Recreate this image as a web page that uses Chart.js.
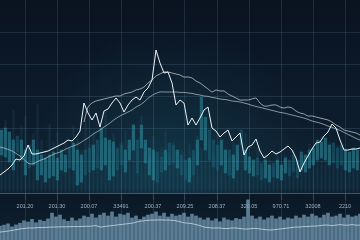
<!DOCTYPE html>
<html><head><meta charset="utf-8">
<script src="https://cdn.jsdelivr.net/npm/chart.js@4.4.1/dist/chart.umd.min.js"></script>
<style>html,body{margin:0;padding:0;background:#0c1726;overflow:hidden}canvas{display:block}</style>
</head><body>
<canvas id="c" width="360" height="240" style="width:360px;height:240px"></canvas>
<script>
const xTickLabels = ["201.20","201.30","200.07","33491","200.37","209.25","208.37","320.05","970.71","32008","2210"];

const price = [182.5,184,185.5,187.5,190.5,190,192,197.5,193,193,
  193.5,194,194.5,195.5,196.5,197.5,198.5,200,199.5,201.5,
  204.5,218.5,213.5,210,213.5,206.5,214.5,215.5,218.5,221,
  218.5,214,217.5,220,221.5,220,224,226,230,245,
  238.5,233.5,234,228.5,217.5,220,218.5,207.5,211,207.5,
  211,215,216.5,206,204.5,201.5,203.5,205,199.5,201.5,
  203.5,192.5,196.5,197.5,200.5,194.5,191,192.5,194.5,193,
  194,195.5,197,195,191,184,188.5,192,195.5,198.5,
  199,202,204,208,206,200,195,195,195.5,195.5,196];

const upper = [null,null,null,null,null,null,null,null,null,null,
  null,null,null,null,null,null,null,null,null,null,null,
  209,216.5,218.5,219.5,220,220.5,221,221.5,222,
  222,223,223.5,224,225,225.5,226.5,228.5,230,232,
  233,234,234,233.5,233,232.5,231.5,231.5,231,229.5,
  228.5,227,225.5,224,225,224.5,224.5,223,222,221,
  220,220,220,220.5,221,218.5,217,217,217.5,217.5,
  216.5,216,216.5,216,214.5,213.5,213,212,212,211.5,
  211,210.5,210,209,207.5,206.5,205,204.5,204,203.5,202.5];

const movingAvg = [196.5,196,195.3,194.5,193.3,192,190.3,188.5,188,188.8,
  189.8,190.5,191.5,192.5,193.3,194,195,196,196.8,197.5,
  198.5,199.8,201,202.5,203.8,205,206.5,207.8,209.3,210.8,
  212,213,214,215,216.5,217.5,219,220.8,222.3,223.3,
  224,224,224,224,224,223.8,223.8,223.5,223.3,222.8,
  222.5,222,221.8,221.3,221,220.5,220.3,220,219.5,219.3,
  219,218.5,218,217.3,216.8,216.3,215.8,215.3,214.8,214.3,
  213.8,213.5,213,212.5,212,211.5,211,210.3,209.5,209,
  208.5,207.8,207,206.3,205.5,204.8,203.8,202.8,201.8,200.8,200];

const candleLow = [190,192.5,191.5,189,185,194,190,182.5,186,187.5,
  180,182.5,179,181,182,180,185,184,186,185,
  177.5,179,182.5,184,185,186,185,187.5,180,182,
  185,187.5,184,190,195,183.5,196,188.5,182.5,180,
  179,184,185,187.5,188.5,186,182.5,180,179,182.5,
  187.5,200,195,190,186.5,185,187.5,183.5,182.5,181,
  185,197.5,185,183.5,182,182.5,180,181,179,181.5,
  181,180,183.5,182,184,181,185,184,186,187.5,
  190,191,190,187.5,188.5,186,187.5,185,184,186,185];

const candleHigh = [202.5,205,206,204,200,202,200,195,197.5,200,
  195,192.5,191,192.5,194,191,195,192.5,196,198.5,
  195,192.5,195,196,197.5,200,206,201,200,199,
  196,197.5,195,200,207.5,200,207.5,200,196,195,
  194,191.5,195,198.5,197.5,195,192.5,190,191,195,
  200,221.5,211.5,205,200,197.5,200,195,195,192.5,
  197.5,205,195,191.5,190,191,188.5,190,187.5,188.5,
  190,187.5,191,190,192.5,190,194,192.5,195,196,
  200,199,201,197.5,198.5,196,197.5,195,194,196,195];

const depthTop = [205,210,200,215,198,207,212,196,203,218,200,195,208,199,204,193,
  200,196,207,201,195,210,198,204,192,200,214,197,203,195,199,
  205,194,208,200,212,198,192,202,190,196,204,193,199,188,195,
  190,198,193,202,196,206,200,192,197,189,195,191,199,194,200,
  203,192,189,196,187,193,190,186,194,189,192,188,195,190,186,
  193,198,191,196,202,195,199,193,197,191,195,189,194,192,196];
const depthBase = 173.5;

const volume = [58,62,67,55,63,70,
  80,75,86,72,83,78,88,
  112,96,104,
  85,78,92,80,88,
  100,95,108,92,104,
  112,100,117,96,108,104,112,
  92,100,86,96,104,
  108,117,100,112,96,108,100,
  104,112,96,108,100,92,
  84,92,80,88,76,92,84,80,90,86,96,
  167,
  100,88,96,84,92,100,88,96,84,92,88,100,92,
  104,96,108,100,92,104,112,96,100,108,92,104,96,100,108];

const volumeAvg = [33,35,37,40,43,46,48,50,
  50,51,52,52,53,54,54,55,55,55,56,56,56,57,57,58,60,
  54,56,58,60,62,64,66,68,70,74,78,80,82,
  83,83,84,83,83,82,80,76,
  72,70,68,64,60,
  54,52,50,50,50,48,48,50,50,48,46,46,48,48,46,
  44,42,42,44,46,48,50,52,54,54,
  56,56,58,58,60,62,62,60,62,64,62,62,64,62,62];

const days = price.map((_, i) => i);

const bg = {
  id: 'bg',
  beforeDraw(chart) {
    const {ctx, width, height} = chart;
    ctx.save();
    const g = ctx.createLinearGradient(0, 0, 0, height);
    g.addColorStop(0, '#0a1320');
    g.addColorStop(0.5, '#0d1c2c');
    g.addColorStop(0.78, '#0f2535');
    g.addColorStop(0.81, '#0b1826');
    g.addColorStop(0.88, '#0c1b29');
    g.addColorStop(1, '#0e2030');
    ctx.fillStyle = g;
    ctx.fillRect(0, 0, width, height);
    const r = ctx.createRadialGradient(170, 165, 5, 170, 165, 140);
    r.addColorStop(0, 'rgba(30,120,140,0.22)');
    r.addColorStop(1, 'rgba(30,120,140,0)');
    ctx.fillStyle = r;
    ctx.fillRect(0, 0, width, 193);
    ctx.restore();
  }
};

new Chart(document.getElementById('c'), {
  type: 'line',
  data: {
    labels: days,
    datasets: [
      { type: 'line', data: price, yAxisID: 'y', borderColor: '#eef3f7', borderWidth: 1, pointRadius: 0, tension: 0, order: 0 },
      { type: 'line', data: upper, yAxisID: 'y', borderColor: 'rgba(215,225,232,0.85)', borderWidth: 0.8, pointRadius: 0, tension: 0.2, order: 1 },
      { type: 'line', data: movingAvg, yAxisID: 'y', borderColor: 'rgba(200,212,222,0.8)', borderWidth: 0.8, pointRadius: 0, tension: 0.4, order: 1 },
      { type: 'bar', data: days.map(i => [candleLow[i], candleHigh[i]]), yAxisID: 'y', barThickness: 2.6,
        backgroundColor: c => { const i = c.dataIndex; return (i > 0 && price[i] >= price[i-1]) ? 'rgba(45,150,168,0.5)' : 'rgba(28,95,116,0.55)'; },
        order: 3 },
      { type: 'bar', data: days.map(i => [depthBase, depthTop[i]]), yAxisID: 'y', barThickness: 1.5,
        backgroundColor: 'rgba(60,150,170,0.12)', order: 4 },
      { type: 'bar', data: volume, yAxisID: 'yv', barThickness: 3,
        backgroundColor: 'rgba(122,162,188,0.72)', order: 3 },
      { type: 'line', data: volumeAvg, yAxisID: 'yv', borderColor: 'rgba(220,232,240,0.85)', borderWidth: 0.8, pointRadius: 0, tension: 0.3, order: 0 }
    ]
  },
  options: {
    responsive: false,
    animation: false,
    devicePixelRatio: 1,
    layout: { padding: 0 },
    plugins: { legend: { display: false }, tooltip: { enabled: false } },
    scales: {
      x: {
        type: 'category',
        offset: false,
        position: { yg: 6 },
        grid: { offset: false, color: 'rgba(110,140,170,0.26)', lineWidth: 0.8, drawTicks: true, tickLength: 6, tickColor: 'rgba(110,140,170,0.3)' },
        border: { display: true, color: 'rgba(80,150,175,0.55)', width: 1 },
        afterBuildTicks: s => { s.ticks = xTickLabels.map((_, k) => ({ value: 6.25 + 8 * k })); },
        ticks: { autoSkip: false, maxRotation: 0, padding: 4, color: '#9fb2c4',
          font: { family: 'Liberation Sans', size: 5.5 },
          callback: (v, k) => xTickLabels[k] }
      },
      y: { display: false, min: 150, max: 270 },
      yv: { display: false, min: 0, max: 1000 },
      yg: {
        display: true, reverse: true, min: 0, max: 7.45,
        ticks: { display: false, stepSize: 1 },
        grid: { drawTicks: false, lineWidth: 0.8,
          color: c => (c.tick && c.tick.value >= 1 && c.tick.value <= 5) ? 'rgba(110,140,170,0.26)' : 'transparent' },
        border: { display: false }
      }
    }
  },
  plugins: [bg]
});
</script>
</body></html>
